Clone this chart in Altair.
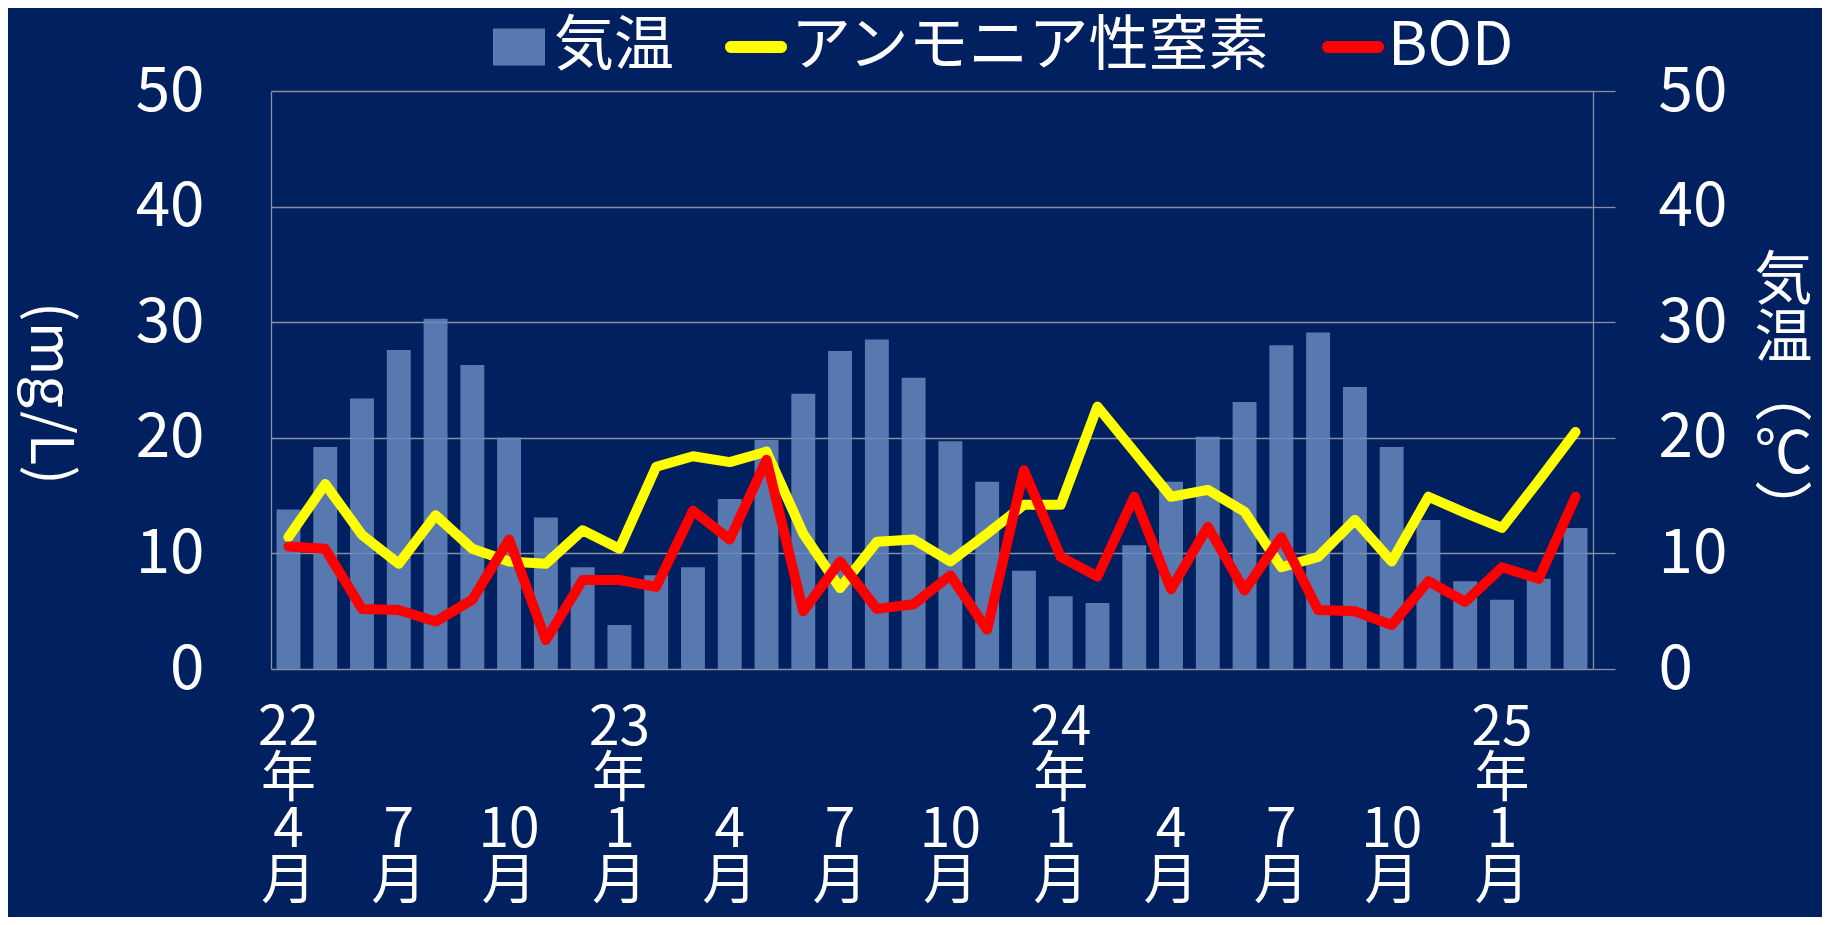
import altair as alt
import pandas as pd
import json

# ---- data ----
months = [
    "22年4月", "22年5月", "22年6月", "22年7月", "22年8月", "22年9月",
    "22年10月", "22年11月", "22年12月", "23年1月", "23年2月", "23年3月",
    "23年4月", "23年5月", "23年6月", "23年7月", "23年8月", "23年9月",
    "23年10月", "23年11月", "23年12月", "24年1月", "24年2月", "24年3月",
    "24年4月", "24年5月", "24年6月", "24年7月", "24年8月", "24年9月",
    "24年10月", "24年11月", "24年12月", "25年1月", "25年2月", "25年3月",
]
temperature = [13.8, 19.2, 23.4, 27.6, 30.3, 26.3, 20.0, 13.1, 8.8, 3.8, 8.1, 8.8,
               14.7, 19.8, 23.8, 27.5, 28.5, 25.2, 19.7, 16.2, 8.5, 6.3, 5.7, 10.7,
               16.2, 20.1, 23.1, 28.0, 29.1, 24.4, 19.2, 12.9, 7.6, 6.0, 7.8, 12.2]
ammonia = [11.4, 16.0, 11.6, 9.1, 13.3, 10.4, 9.3, 9.1, 12.0, 10.4, 17.5, 18.4,
           17.9, 18.8, 11.7, 7.0, 11.0, 11.2, 9.3, 11.7, 14.2, 14.2, 22.7, 18.8,
           14.9, 15.5, 13.6, 8.8, 9.7, 12.9, 9.3, 14.9, 13.5, 12.2, 16.3, 20.5]
bod = [10.6, 10.4, 5.2, 5.1, 4.1, 6.0, 11.2, 2.5, 7.7, 7.7, 7.1, 13.7,
       11.2, 18.1, 5.0, 9.3, 5.2, 5.6, 8.1, 3.4, 17.2, 9.7, 8.0, 14.9,
       6.9, 12.3, 6.8, 11.4, 5.1, 5.0, 3.8, 7.6, 5.8, 8.8, 7.8, 14.9]

# tick labels, stacked vertically: year rows ("22 / 年") and month rows ("4 / 月")
year_tick_months = ["22年4月", "23年1月", "24年1月", "25年1月"]
year_tick_texts = ["22|年", "23|年", "24|年", "25|年"]
tick_months = ["22年4月", "22年7月", "22年10月", "23年1月", "23年4月", "23年7月",
               "23年10月", "24年1月", "24年4月", "24年7月", "24年10月", "25年1月"]
tick_month_texts = ["4|月", "7|月", "10|月", "1|月", "4|月", "7|月",
                    "10|月", "1|月", "4|月", "7|月", "10|月", "1|月"]
y_ticks = [0, 10, 20, 30, 40, 50]

series_names = ["気温", "アンモニア性窒素", "BOD"]
series_colors = ["#587AB0", "#FFFF00", "#FF0000"]
series_shapes = [
    "M-0.84,-0.6L0.84,-0.6L0.84,0.6L-0.84,0.6Z",
    "M-0.81,-0.19L0.81,-0.19A0.19,0.19 0 0 1 0.81,0.19L-0.81,0.19A0.19,0.19 0 0 1 -0.81,-0.19Z",
    "M-0.81,-0.19L0.81,-0.19A0.19,0.19 0 0 1 0.81,0.19L-0.81,0.19A0.19,0.19 0 0 1 -0.81,-0.19Z",
]

BG = "#002060"
GRID = "#8A8E9E"
FONT = "Noto Sans CJK JP"
LABEL_SIZE = 55
LINE_H = 51
PAD_TOP = 32

df = pd.DataFrame({"month": months, "temp": temperature, "nh4": ammonia, "bod": bod})
legend_df = pd.DataFrame({"series": series_names})


def lookup_expr(texts, keys):
    return "split(%s[indexof(%s, datum.value)], '|')" % (
        json.dumps(texts, ensure_ascii=False), json.dumps(keys, ensure_ascii=False))


x_scale = alt.Scale(paddingInner=0.35, paddingOuter=0.15)


def x_axis(values, texts, padding):
    return alt.Axis(
        orient="bottom", title=None, values=values, labelExpr=lookup_expr(texts, values),
        labelAngle=0, labelAlign="center", labelBaseline="top", labelPadding=padding,
        labelFontSize=LABEL_SIZE, labelLineHeight=LINE_H, labelOverlap=False,
        labelBound=False, domain=False, ticks=False, grid=False,
    )


x_years = alt.X("month:O", sort=months, scale=x_scale,
                axis=x_axis(year_tick_months, year_tick_texts, PAD_TOP))
x_months = alt.X("month:O", sort=months, scale=x_scale,
                 axis=x_axis(tick_months, tick_month_texts, PAD_TOP + 2 * LINE_H))
x_plain = alt.X("month:O", sort=months, scale=x_scale, axis=None)

bars = alt.Chart(df).mark_bar(color="#678ABE", opacity=0.85).encode(
    x=x_years,
    y=alt.Y(
        "temp:Q",
        scale=alt.Scale(domain=[0, 50]),
        axis=alt.Axis(
            orient="right", values=y_ticks, grid=False, ticks=True, tickSize=22,
            tickWidth=1.3, tickColor=GRID, domain=True, domainColor=GRID,
            domainWidth=1.3, labelPadding=43, labelFontSize=62,
            title=["気", "温", "︵", "℃", "︶"], titleAngle=0, titleAlign="center",
            titleBaseline="middle", titleX=190, titleY=190, titleFontSize=58,
            titleLineHeight=58, titleFontWeight="normal",
        ),
    ),
)

nh4_line = alt.Chart(df).mark_line(
    color="#FFFF00", strokeWidth=10, strokeJoin="round", strokeCap="round"
).encode(
    x=x_months,
    y=alt.Y(
        "nh4:Q",
        scale=alt.Scale(domain=[0, 50]),
        axis=alt.Axis(
            orient="left", values=y_ticks, grid=True, gridColor=GRID, gridWidth=1.3,
            ticks=False, domain=True, domainColor=GRID, domainWidth=1.3,
            labelPadding=67, labelFontSize=62,
            title="(mg/L)", titleAngle=90, titleAlign="center", titleBaseline="middle",
            titleX=-224, titleY=302, titleFontSize=58, titleFontWeight="normal",
        ),
    ),
)

bod_line = alt.Chart(df).mark_line(
    color="#FF0000", strokeWidth=10, strokeJoin="round", strokeCap="round"
).encode(
    x=x_plain,
    y=alt.Y("bod:Q", scale=alt.Scale(domain=[0, 50]), axis=None),
)

legend_spec = alt.Legend(
    title=None, orient="none", legendX=217, legendY=-75, direction="horizontal",
    labelFont=FONT, labelFontSize=60, labelColor="white", labelLimit=1000,
    labelOffset=4, columnPadding=50, symbolStrokeWidth=0, symbolOpacity=1,
    padding=0, symbolSize=3844,
)

legend_layer = alt.Chart(legend_df).mark_point(filled=True, opacity=0, size=3844).encode(
    color=alt.Color("series:N", scale=alt.Scale(domain=series_names, range=series_colors),
                    legend=legend_spec),
    shape=alt.Shape("series:N", scale=alt.Scale(domain=series_names, range=series_shapes),
                    legend=legend_spec),
)

chart = (
    alt.layer(bars, nh4_line, bod_line, legend_layer)
    .resolve_scale(y="independent")
    .resolve_axis(x="independent")
    .properties(
        width=1322, height=578,
        autosize=alt.AutoSizeParams(type="none"),
        padding={"left": 263, "top": 83, "right": 229, "bottom": 248},
        background=BG,
    )
    .configure_view(strokeWidth=0)
    .configure_axis(labelFont=FONT, titleFont=FONT, labelColor="white", titleColor="white")
)

chart.save("out.html", embed_options={"renderer": "svg", "actions": False})
